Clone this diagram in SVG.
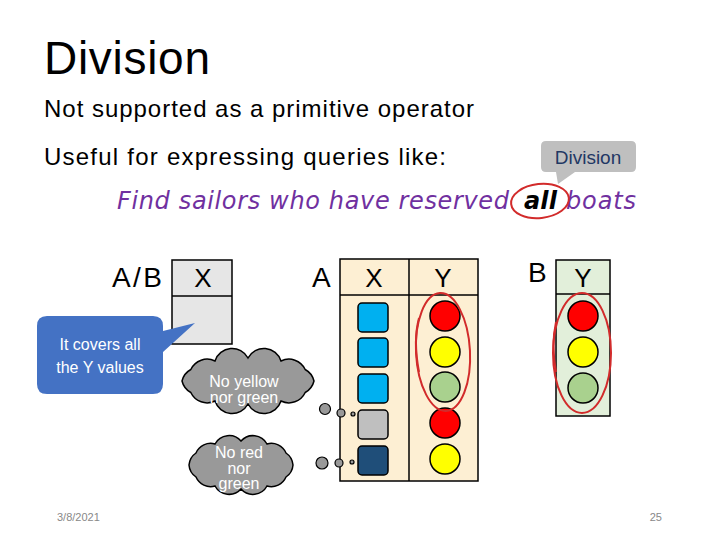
<svg xmlns="http://www.w3.org/2000/svg" width="720" height="540" viewBox="0 0 720 540">
<style>
.t{font-family:"Liberation Sans",Arial,sans-serif;fill:#000}
.w{font-family:"Liberation Sans",Arial,sans-serif;fill:#fff;font-size:16px;text-anchor:middle}
.q{font-family:"DejaVu Sans",sans-serif;font-style:italic;font-size:24px;fill:#7030a0}
.hdr{font-family:"Liberation Sans",Arial,sans-serif;font-size:26px;text-anchor:middle}
.sq{stroke:#000;stroke-width:1.5}
.c{stroke:#000;stroke-width:1.5}
.red{fill:#ff0000}.yel{fill:#ffff00}.grn{fill:#a9d18e}
.ring{fill:none;stroke:#d22b2b;stroke-width:2}
.cloud{fill:#999;stroke:#000;stroke-width:1.5}
.dot{fill:#999;stroke:#000;stroke-width:1.2}
.tbl{stroke:#000;stroke-width:1.5}
</style>
<rect width="720" height="540" fill="#fff"/>
<g id="title">
<text class="t" x="44" y="74" font-size="46" textLength="166">Division</text>
<text class="t" x="44" y="117" font-size="24" textLength="430">Not supported as a primitive operator</text>
<text class="t" x="44" y="165" font-size="24" textLength="402">Useful for expressing queries like:</text>
</g>
<g id="query">
<text class="q" x="117" y="209" textLength="392">Find sailors who have reserved</text>
<text class="q" x="524" y="209" style="fill:#000;font-weight:bold" textLength="33">all</text>
<text class="q" x="566" y="209" textLength="70">boats</text>
<ellipse class="ring" cx="540" cy="201" rx="29" ry="17" transform="rotate(-6 540 201)"/>
</g>
<g id="division-callout">
<path d="M546,141 H631 Q636,141 636,146 V167 Q636,172 631,172 H575 L558,184 L556,172 H546 Q541,172 541,167 V146 Q541,141 546,141 Z" fill="#bfbfbf"/>
<text x="588" y="164" font-family="Liberation Sans,Arial,sans-serif" font-size="19" fill="#1f3864" text-anchor="middle">Division</text>
</g>
<g id="table-AB">
<text class="t" x="112" y="287" font-size="28" textLength="50">A/B</text>
<rect class="tbl" x="172" y="260" width="60" height="84" fill="#e6e6e6"/>
<line class="tbl" x1="172" y1="296" x2="232" y2="296"/>
<text class="hdr" x="203" y="287">X</text>
</g>
<g id="blue-callout">
<path d="M47,316 H153 Q163,316 163,326 V331 L195,323 L163,352 V384 Q163,394 153,394 H47 Q37,394 37,384 V326 Q37,316 47,316 Z" fill="#4472c4"/>
<text class="w" x="100" y="350" font-size="17.5">It covers all</text>
<text class="w" x="100" y="373" font-size="17.5">the Y values</text>
</g>
<g id="table-A">
<text class="t" x="312" y="287" font-size="28">A</text>
<rect class="tbl" x="340" y="259" width="138" height="222" fill="#fdefd3"/>
<line class="tbl" x1="340" y1="295" x2="478" y2="295"/>
<line class="tbl" x1="409" y1="259" x2="409" y2="481"/>
<text class="hdr" x="374" y="287">X</text>
<text class="hdr" x="443" y="287">Y</text>
<rect class="sq" x="358" y="303" width="30" height="29" rx="4" fill="#00b0f0"/>
<rect class="sq" x="358" y="338" width="30" height="29" rx="4" fill="#00b0f0"/>
<rect class="sq" x="358" y="374" width="30" height="29" rx="4" fill="#00b0f0"/>
<rect class="sq" x="358" y="410" width="30" height="29" rx="4" fill="#bfbfbf"/>
<rect class="sq" x="358" y="446" width="30" height="29" rx="4" fill="#1f4e79"/>
<circle class="c red" cx="445" cy="316" r="15"/>
<circle class="c yel" cx="445" cy="352" r="15"/>
<circle class="c grn" cx="445" cy="387" r="15"/>
<circle class="c red" cx="445" cy="423" r="15"/>
<circle class="c yel" cx="445" cy="459" r="15"/>
<ellipse class="ring" cx="443" cy="352" rx="27" ry="59" transform="rotate(-3 443 352)"/>
<path class="ring" d="M419,318 Q413,340 419,372" stroke-width="1.5"/>
</g>
<g id="table-B">
<text class="t" x="528" y="282" font-size="28">B</text>
<rect class="tbl" x="556" y="260" width="54" height="156" fill="#e2efda"/>
<line class="tbl" x1="556" y1="294" x2="610" y2="294"/>
<text class="hdr" x="583" y="287">Y</text>
<circle class="c red" cx="583" cy="316" r="15"/>
<circle class="c yel" cx="583" cy="352" r="15"/>
<circle class="c grn" cx="583" cy="388" r="15"/>
<ellipse class="ring" cx="582" cy="353" rx="29" ry="60"/>
<path class="ring" d="M556,322 Q551,345 556,372" stroke-width="1.5"/>
</g>
<g id="cloud-1">
<path class="cloud" d="M314,381 A18,18 0 0 1 305.2,392.5 A18,18 0 0 1 281,401 A18,18 0 0 1 248,404 A18,18 0 0 1 215,401 A18,18 0 0 1 190.8,392.5 A18,18 0 0 1 182,381 A18,18 0 0 1 190.8,369.5 A18,18 0 0 1 215,361 A18,18 0 0 1 248,358 A18,18 0 0 1 281,361 A18,18 0 0 1 305.2,369.5 A18,18 0 0 1 314,381 Z"/>
<text class="w" x="244" y="387">No yellow</text>
<text class="w" x="244" y="403">nor green</text>
</g>
<g id="cloud-2">
<path class="cloud" d="M293,465 A16,16 0 0 1 286,477 A16,16 0 0 1 267,486 A16,16 0 0 1 241,489 A16,16 0 0 1 215,486 A16,16 0 0 1 196,477 A16,16 0 0 1 189,465 A16,16 0 0 1 196,453 A16,16 0 0 1 215,444 A16,16 0 0 1 241,441 A16,16 0 0 1 267,444 A16,16 0 0 1 286,453 A16,16 0 0 1 293,465 Z"/>
<text class="w" x="239" y="458" font-size="13">No red</text>
<text class="w" x="239" y="473.5" font-size="13">nor</text>
<text class="w" x="239" y="489" font-size="13">green</text>
</g>
<g id="connectors">
<circle class="dot" cx="325" cy="409" r="5.5"/>
<circle class="dot" cx="341" cy="413" r="4"/>
<circle class="dot" cx="353" cy="414" r="2"/>
<circle class="dot" cx="322" cy="463" r="6"/>
<circle class="dot" cx="339" cy="463" r="4"/>
<circle class="dot" cx="352" cy="462" r="2"/>
</g>
<g id="footer">
<text x="57" y="521" font-family="Liberation Sans,Arial,sans-serif" font-size="11" fill="#888">3/8/2021</text>
<text x="662" y="521" font-family="Liberation Sans,Arial,sans-serif" font-size="11" fill="#888" text-anchor="end">25</text>
</g>
</svg>
